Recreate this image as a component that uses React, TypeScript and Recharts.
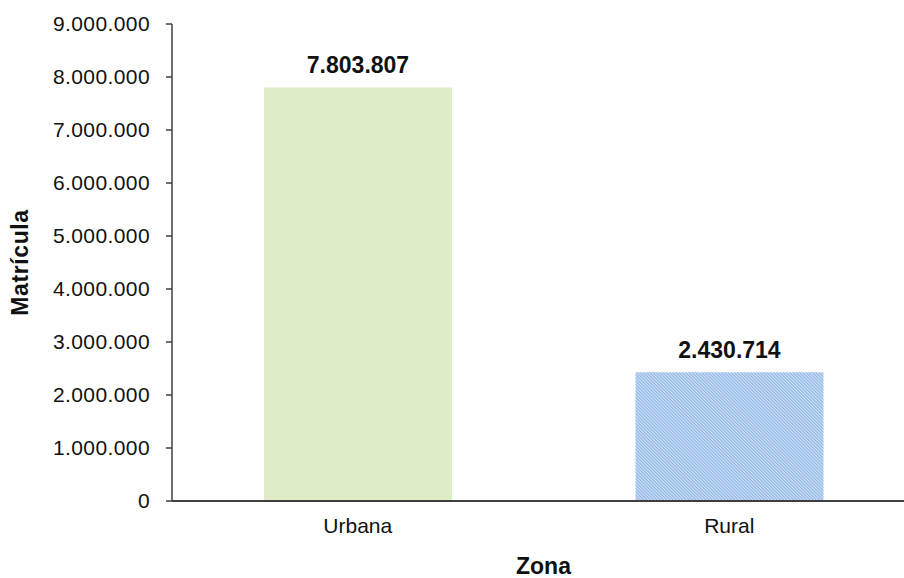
import React from "react";
import { BarChart, Bar, XAxis, YAxis, Cell, LabelList, Label } from "recharts";

const categories = ["Urbana", "Rural"];
const matricula = [7803807, 2430714];
const yTicks = [0, 1000000, 2000000, 3000000, 4000000, 5000000, 6000000, 7000000, 8000000, 9000000];
const barFills = ["#DEEDC6", "url(#ruralHatch)"];

const data = categories.map((zona, i) => ({ zona, value: matricula[i] }));

const fmt = (v: number) => String(v).replace(/\B(?=(\d{3})+(?!\d))/g, ".");
const FONT = "'Liberation Sans', Arial, sans-serif";

const YTitle = (props: any) => {
  const vb = props.viewBox || { x: 0, y: 24, width: 172, height: 477 };
  const cx = 20;
  const cy = vb.y + vb.height / 2;
  return (
    <text
      x={cx}
      y={cy}
      transform={`rotate(-90, ${cx}, ${cy})`}
      textAnchor="middle"
      dominantBaseline="central"
      fontFamily={FONT}
      fontWeight="bold"
      fontSize={23}
      letterSpacing={0.6}
      fill="#111"
    >
      Matrícula
    </text>
  );
};

export default function App() {
  return (
    <div style={{ position: "absolute", left: 0, top: 0, width: 904, height: 578, overflow: "hidden", background: "#fff" }}>
      <svg width={0} height={0} style={{ position: "absolute" }}>
        <defs>
          <pattern id="ruralHatch" patternUnits="userSpaceOnUse" width={2.3} height={10} patternTransform="rotate(-45)">
            <rect x={0} y={0} width={2.3} height={10} fill="#D3E4F7" />
            <rect x={0} y={0} width={1.25} height={10} fill="#8FB6E5" />
          </pattern>
        </defs>
      </svg>
      <BarChart width={915} height={578} data={data} margin={{ top: 24, right: 0, left: 0, bottom: 0 }}>
        <XAxis
          dataKey="zona"
          height={77}
          tickLine={false}
          tickSize={0}
          tickMargin={17}
          axisLine={{ stroke: "#3f3f3f", strokeWidth: 2 }}
          tick={{ fill: "#111", fontSize: 21, fontFamily: FONT }}
        >
          <Label value="Zona" position="insideBottom" offset={4} fill="#111" fontSize={23} fontWeight="bold" fontFamily={FONT} />
        </XAxis>
        <YAxis
          width={172}
          domain={[0, 9000000]}
          ticks={yTicks}
          interval={0}
          tickFormatter={fmt}
          tickSize={6}
          tickMargin={16}
          axisLine={{ stroke: "#3f3f3f", strokeWidth: 1.5 }}
          tickLine={{ stroke: "#3f3f3f", strokeWidth: 1.5 }}
          tick={{ fill: "#111", fontSize: 21, fontFamily: FONT, letterSpacing: 0.4 }}
          label={<YTitle />}
        />
        <Bar dataKey="value" barSize={188} isAnimationActive={false}>
          {data.map((d, i) => (
            <Cell key={d.zona} fill={barFills[i]} />
          ))}
          <LabelList
            dataKey="value"
            position="top"
            offset={14}
            formatter={(v: any) => fmt(Number(v))}
            fill="#111"
            fontSize={23}
            fontWeight="bold"
            fontFamily={FONT}
          />
        </Bar>
      </BarChart>
    </div>
  );
}
